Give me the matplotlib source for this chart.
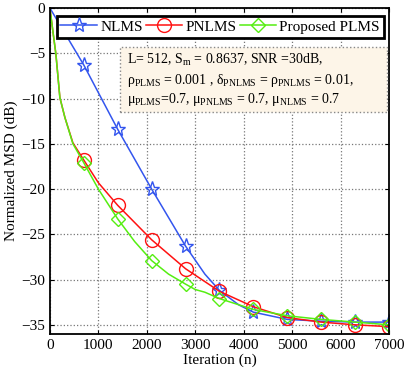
import numpy as np
import matplotlib
matplotlib.use('Agg')
import matplotlib.pyplot as plt
from matplotlib.patches import Rectangle

plt.rcParams['font.family'] = ['Liberation Serif', 'DejaVu Serif']
plt.rcParams['mathtext.fontset'] = 'custom'
plt.rcParams['mathtext.rm'] = 'Liberation Serif'
plt.rcParams['mathtext.it'] = 'Liberation Serif:italic'

# curves (iteration, MSD in dB)
nlms_n = [0, 700, 1400, 2100, 2800, 3200, 3500, 3900, 4200, 4900, 5600, 6300, 7000]
nlms_db = [0, -6.3, -13.4, -20.0, -26.3, -29.4, -31.2, -32.8, -33.6, -34.4, -34.6, -34.7, -34.7]

pnlms_n = [0, 60, 124, 206, 310, 475, 700, 1000, 1400, 2100, 2800, 3500, 4200, 4900, 5600, 6300, 7000]
pnlms_db = [0, -2.5, -5.1, -9.9, -12.1, -14.9, -16.8, -19.3, -21.8, -25.6, -28.8, -31.3, -33.0,
            -34.2, -34.7, -35.0, -35.2]

plms_n = [0, 60, 124, 206, 310, 475, 700, 1000, 1400, 1750, 2100, 2450, 2800, 3000, 3200, 3500,
          4200, 4900, 5600, 6300, 7000]
plms_db = [0, -2.5, -5.1, -9.9, -12.1, -15.0, -17.1, -20.0, -23.3, -25.8, -27.9, -29.4, -30.5,
           -31.1, -31.4, -32.1, -33.3, -34.0, -34.4, -34.7, -35.0]

marker_n = [700, 1400, 2100, 2800, 3500, 4200, 4900, 5600, 6300, 7000]

info_lines = [
    'L= 512, S$_{\\mathrm{m}}$ = 0.8637, SNR =30dB,',
    '\u03c1$_{\\mathrm{PLMS}}$ = 0.001 , \u03b4$_{\\mathrm{PNLMS}}$ = \u03c1$_{\\mathrm{PNLMS}}$ = 0.01,',
    '\u03bc$_{\\mathrm{PLMS}}$=0.7, \u03bc$_{\\mathrm{PNLMS}}$ = 0.7, \u03bc$_{\\mathrm{NLMS}}$ = 0.7',
]

fig = plt.figure(figsize=(4.09, 3.82), dpi=100)
ax = fig.add_axes([0.122, 0.126, 0.829, 0.853])

series = [
    (nlms_n, nlms_db, '#3355ee', '*', 11, 'NLMS'),
    (pnlms_n, pnlms_db, '#ff1111', 'o', 10, 'PNLMS'),
    (plms_n, plms_db, '#55ee11', 'D', 7, 'Proposed PLMS'),
]
for xs, ys, col, mk, ms, lab in series:
    ax.plot(xs, ys, color=col, linewidth=1.1)
    my = np.interp(marker_n, xs, ys)
    ax.plot(marker_n, my, linestyle='none', marker=mk, markersize=ms, markerfacecolor='none',
            markeredgecolor=col, markeredgewidth=1.0)
    # legend proxy
    ax.plot([], [], color=col, linewidth=1.1, marker=mk, markersize=ms, markerfacecolor='none',
            markeredgecolor=col, label=lab)

ax.set_xlim(0, 7000)
ax.set_ylim(-36, 0)
ax.set_xticks(range(0, 7001, 1000))
ax.set_yticks(range(-35, 1, 5))
ax.set_yticklabels(['\u221235', '\u221230', '\u221225', '\u221220', '\u221215', '\u221210', '\u22125', '0'])
ax.tick_params(direction='in', labelsize=11, length=3, top=True, right=True)
ax.grid(True, linestyle=':', color='#777777', linewidth=0.9)
for s in ax.spines.values():
    s.set_linewidth(1.3)

ax.set_xlabel('Iteration (n)', fontsize=11, labelpad=1)
ax.set_ylabel('Normalized MSD (dB)', fontsize=11, labelpad=2)

handles, labels = ax.get_legend_handles_labels()
leg = ax.legend(handles, labels, ncol=3, loc='upper left', bbox_to_anchor=(0.02, 0.975),
                fontsize=11, handlelength=2.4, handletextpad=0.2, columnspacing=0.2,
                borderpad=0.25, borderaxespad=0.0, fancybox=False, framealpha=1)
leg.get_frame().set_edgecolor('black')
leg.get_frame().set_linewidth(2.0)

# parameter box
ax.add_patch(Rectangle((0.2065, 0.681), 0.787, 0.199, transform=ax.transAxes,
                       facecolor='#fdf5e8', edgecolor='#888888', linestyle=':',
                       linewidth=1.0, zorder=5))
for i, line in enumerate(info_lines):
    ax.text(0.227, 0.827 - i * 0.06, line, transform=ax.transAxes, fontsize=10,
            va='baseline', ha='left', zorder=6)

fig.savefig('out.png', dpi=100)
